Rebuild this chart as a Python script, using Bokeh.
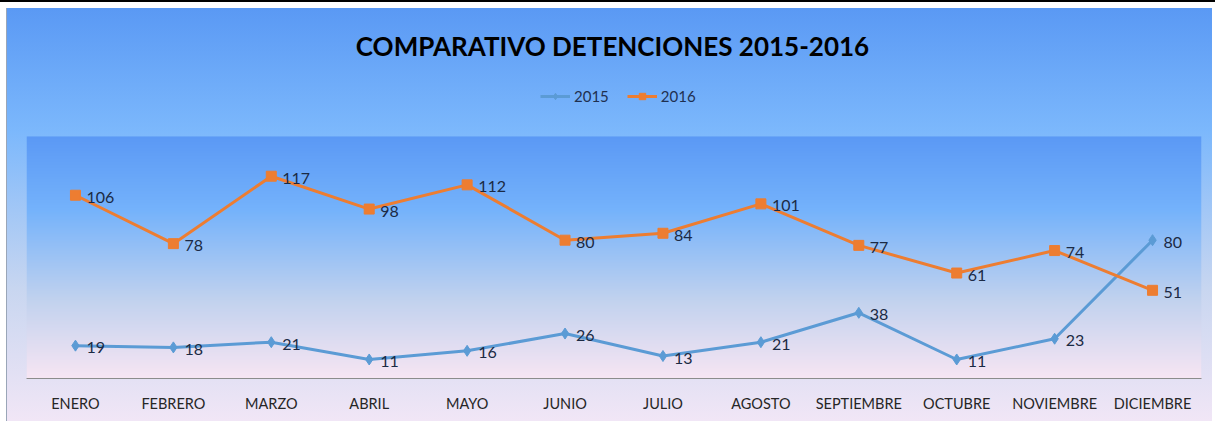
import numpy as np
from bokeh.plotting import figure
from bokeh.models import (ColumnDataSource, Range1d, FactorRange, Legend, LegendItem, Label)
from bokeh.core.properties import value
from bokeh.embed import file_html
from bokeh.resources import INLINE

# ---- data ----
months = ["ENERO", "FEBRERO", "MARZO", "ABRIL", "MAYO", "JUNIO", "JULIO",
          "AGOSTO", "SEPTIEMBRE", "OCTUBRE", "NOVIEMBRE", "DICIEMBRE"]
v2015 = [19, 18, 21, 11, 16, 26, 13, 21, 38, 11, 23, 80]
v2016 = [106, 78, 117, 98, 112, 80, 84, 101, 77, 61, 74, 51]
title_text = "COMPARATIVO DETENCIONES 2015-2016"

C15 = "#5B9BD5"
C16 = "#ED7D31"
LABEL_C = "#1B2A44"

PLOT_TOP = 140  # top of the inner plot area (value units)

src = ColumnDataSource(dict(
    m=months, a=v2015, b=v2016,
    la=[str(v) for v in v2015], lb=[str(v) for v in v2016]))

p = figure(width=1205, height=413, output_backend="svg", toolbar_location=None,
           x_range=FactorRange(*months, range_padding=0), y_range=Range1d(0, 214),
           min_border_left=19, min_border_right=11, min_border_top=0, min_border_bottom=43)
p.border_fill_color = None
p.background_fill_color = None
p.outline_line_color = None
p.styles = {
    "background-image": "linear-gradient(to bottom, #5A99F4 0%, #7CB8FC 30%, #C8D6F0 68%, #F1E6F6 100%)",
    "margin-left": "7px",
    "margin-top": "8px",
    "box-shadow": "-1px 0 0 0 #9AA6B8, 0 2px 0 8px #ffffff, 0 0 0 8px #000000",
}

# plot-area gradient (background decoration)
stops = [(0.0, (0x5B, 0x99, 0xF5)), (0.30, (0x74, 0xB2, 0xFB)),
         (0.68, (0xC2, 0xD2, 0xEE)), (1.0, (0xF7, 0xE5, 0xF3))]
n = 242
img = np.zeros((n, 1), dtype=np.uint32)
view = img.view(dtype=np.uint8).reshape((n, 1, 4))
for i in range(n):
    t = 1 - i / (n - 1)  # row 0 is bottom
    for k in range(len(stops) - 1):
        t0, c0 = stops[k]
        t1, c1 = stops[k + 1]
        if t0 <= t <= t1:
            f = (t - t0) / (t1 - t0)
            c = [int(round(c0[j] + f * (c1[j] - c0[j]))) for j in range(3)]
            break
    view[i, 0, 0], view[i, 0, 1], view[i, 0, 2], view[i, 0, 3] = c[0], c[1], c[2], 255
p.image_rgba(image=[img], x=0, y=0, dw=len(months), dh=PLOT_TOP)

# series
l15 = p.line("m", "a", source=src, color=C15, line_width=3)
s15 = p.scatter("m", "a", source=src, marker="diamond", size=11, color=C15)
l16 = p.line("m", "b", source=src, color=C16, line_width=3)
s16 = p.scatter("m", "b", source=src, marker="square", size=10, color=C16)

lbl_font = value("Lato")
p.text("m", "a", text="la", source=src, x_offset=11, y_offset=2, text_baseline="middle",
       text_align="left", text_font=lbl_font, text_font_size="16px", text_color=LABEL_C)
p.text("m", "b", text="lb", source=src, x_offset=11, y_offset=2, text_baseline="middle",
       text_align="left", text_font=lbl_font, text_font_size="16px", text_color=LABEL_C)

# axes
p.yaxis.visible = False
p.xgrid.visible = False
p.ygrid.visible = False
ax = p.xaxis[0]
ax.axis_line_color = "#8C8C8C"
ax.axis_line_width = 1
ax.major_tick_line_color = None
ax.minor_tick_line_color = None
ax.major_label_text_font = "Lato"
ax.major_label_text_font_size = "14.5px"
ax.major_label_text_color = "#262626"
ax.major_label_standoff = 10

# title
title = Label(x=586, y=333, x_units="screen", y_units="screen", text=title_text,
              text_align="center", text_baseline="middle", text_font="Lato",
              text_font_style="bold", text_font_size="26px", text_color="#000000")
p.add_layout(title)

# legend
legend = Legend(items=[LegendItem(label="2015", renderers=[l15, s15]),
                       LegendItem(label="2016", renderers=[l16, s16])],
                orientation="horizontal", location=(514, 273),
                background_fill_alpha=0, border_line_color=None,
                padding=0, margin=0, spacing=18, glyph_width=30, glyph_height=16,
                label_standoff=4, label_height=16,
                label_text_font="Lato", label_text_font_size="15px", label_text_color="#1F3050")
p.add_layout(legend, "center")

open("out.html", "w").write(file_html(p, INLINE))
